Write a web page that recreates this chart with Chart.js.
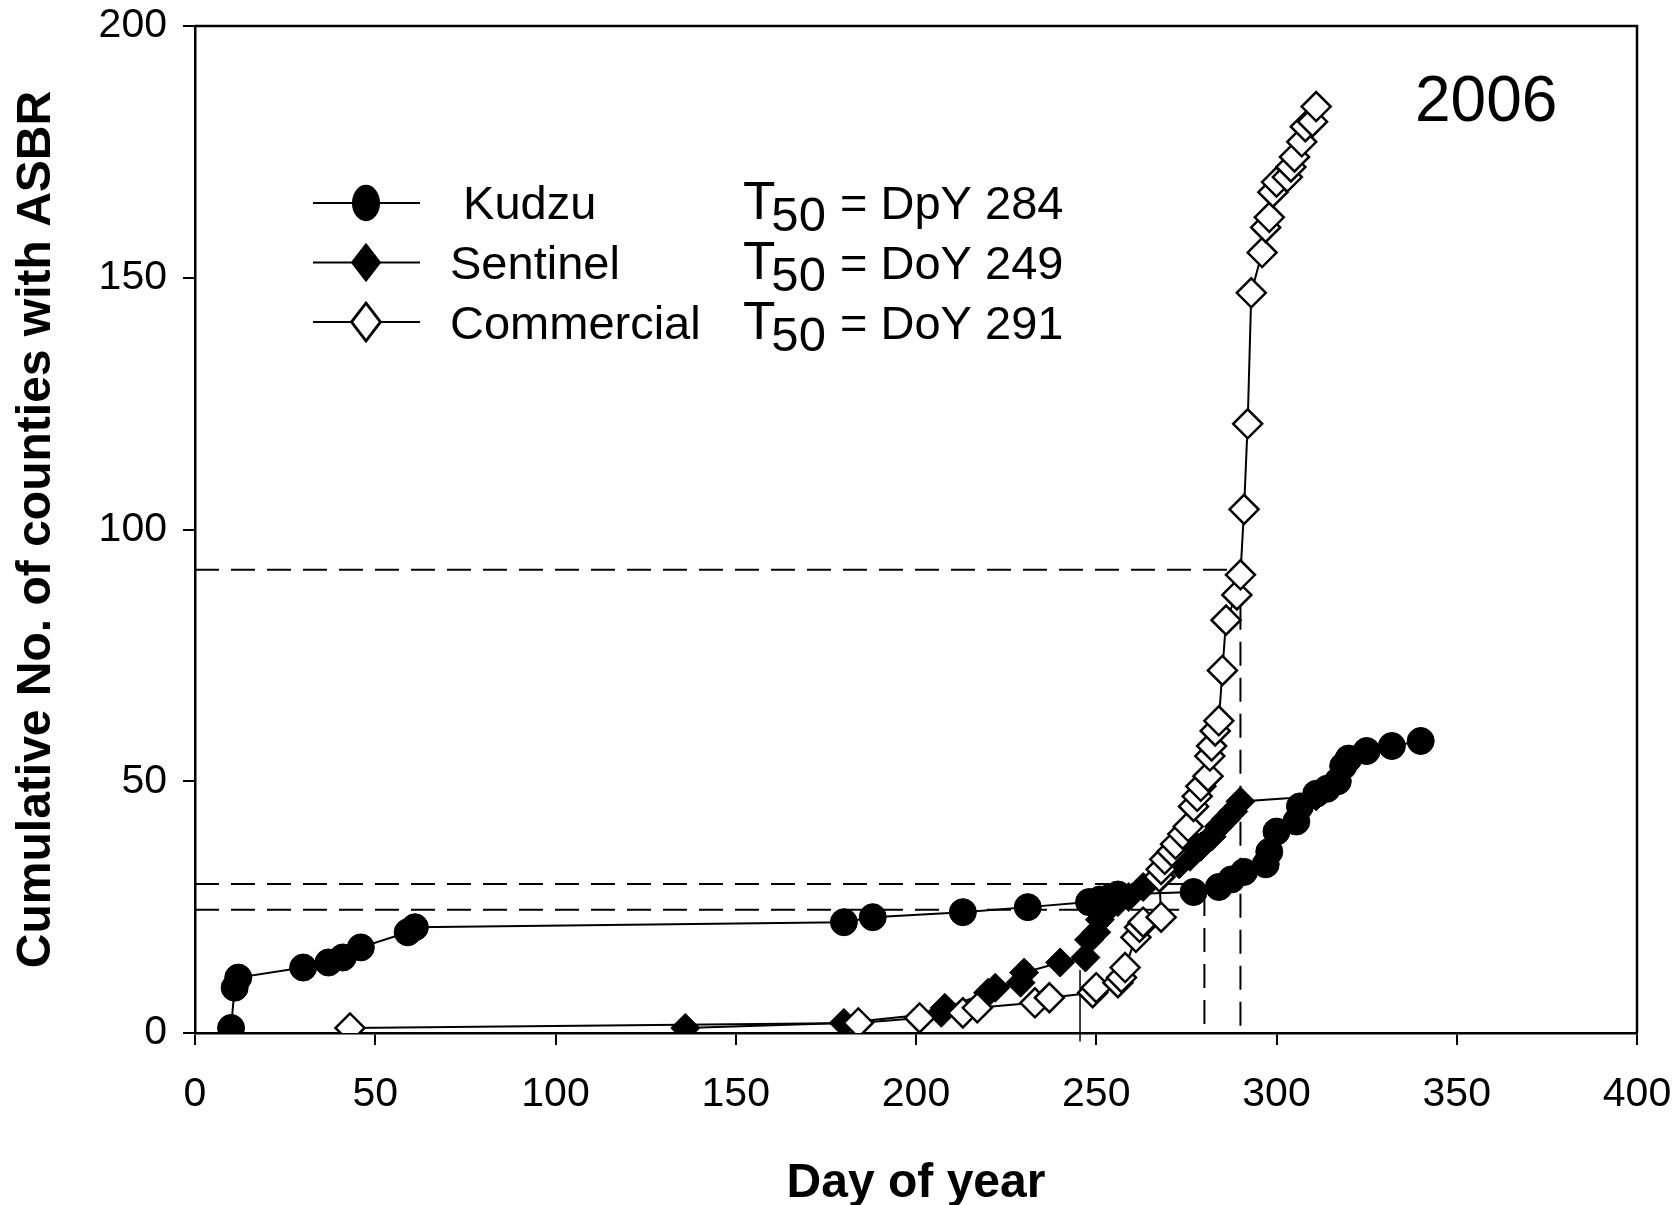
<!DOCTYPE html>
<html>
<head>
<meta charset="utf-8">
<script src="https://cdn.jsdelivr.net/npm/chart.js@4.4.1/dist/chart.umd.min.js"></script>
<style>
    html, body { margin: 0; padding: 0; background: #fff; }
    #wrap { position: relative; width: 1673px; height: 1205px; }
</style>
</head>
<body>
<div id="wrap"><canvas id="asbrChart"></canvas></div>
<script>
// Dados: dia do ano e número acumulado de condados com ASBR
const kudzuDay = [10, 11, 12, 30, 37, 41, 46, 59, 61, 180, 188, 213, 231, 248, 251, 254, 256, 277, 284, 287.5, 291, 297, 298, 300, 305.5, 306.5, 311, 314, 317, 318.5, 320, 325, 332, 340];
const kudzuCount = [1, 9, 11, 13, 14, 15, 17, 20, 21, 22, 23, 24, 25, 26, 26.5, 27, 27.5, 28, 29, 30.5, 32, 33.5, 36, 40, 42, 45, 47.5, 48.5, 50, 53, 54.5, 56, 57, 58];

const sentinelDay = [136, 180, 207, 208, 220, 222, 229, 230, 240, 247, 248, 250, 251, 253, 256, 259, 263, 268, 273, 276, 279, 282, 284, 286, 288, 290, 311];
const sentinelCount = [1, 2, 4, 5, 8, 9, 10, 12, 14, 15, 18.5, 20, 22.5, 24.5, 26, 27, 29, 31, 33.5, 35, 37, 39, 41, 42.5, 44, 46, 47];

const commercialDay = [43, 184, 201, 213, 217, 233, 237, 249, 250, 256, 257, 258, 261, 262, 263, 268, 267.5, 268, 269, 271, 272, 274, 275.5, 277, 278, 279, 281, 281.5, 282, 283, 284, 285, 286, 289, 290, 291, 292, 293, 296, 297, 298, 299, 300, 303, 304, 305, 307, 308, 310, 311];
const commercialCount = [1, 2, 3, 4, 5, 6, 7, 8, 9, 10, 11, 13, 19, 21, 22, 23, 31, 32.5, 34.5, 36, 37.5, 39.5, 41, 45, 47, 49, 51, 55, 57, 60, 62, 72, 82, 87, 91, 104, 121, 147, 155, 160, 162, 167, 169, 170, 172, 174, 177, 180, 181, 184];

const seriesNames = [' Kudzu', 'Sentinel', 'Commercial'];
const t50Labels = ['= DpY 284', '= DoY 249', '= DoY 291'];
const yearLabel = '2006';

const xTicks = [0, 50, 100, 150, 200, 250, 300, 350, 400];
const yTicks = [0, 50, 100, 150, 200];

// Linhas de referência T50 (x1, y1, x2, y2 em unidades dos eixos)
const dashedGuides = [
    [0, 92, 290, 92],
    [290, 92, 290, 0],
    [0, 29.6, 276, 29.6],
    [0, 24.5, 273, 24.5],
    [280, 28, 280, 0]
];
const solidGuides = [
    [245.5, 12.5, 245.5, -1.7]
];

const FONT = '"Liberation Sans", Arial, sans-serif';

function toPoints(xs, ys) {
    return xs.map((x, i) => ({ x: x, y: ys[i] }));
}

function guideDataset(seg, dashed) {
    return {
        data: [{ x: seg[0], y: seg[1] }, { x: seg[2], y: seg[3] }],
        showLine: true,
        borderColor: '#000',
        borderWidth: dashed ? 2 : 1.5,
        borderDash: dashed ? [24, 12] : [],
        pointRadius: 0,
        clip: false,
        order: 5
    };
}

// Legenda, textos T50, ano e moldura
const annotations = {
    id: 'asbrAnnotations',
    afterDraw(chart) {
        const ctx = chart.ctx;
        const area = chart.chartArea;
        ctx.save();

        // moldura superior e direita
        ctx.strokeStyle = '#000';
        ctx.lineWidth = 2.5;
        ctx.beginPath();
        ctx.moveTo(area.left, area.top);
        ctx.lineTo(area.right, area.top);
        ctx.lineTo(area.right, area.bottom);
        ctx.stroke();

        // ano
        ctx.fillStyle = '#000';
        ctx.textBaseline = 'alphabetic';
        ctx.font = '64px ' + FONT;
        ctx.fillText(yearLabel, 1415, 121);

        seriesNames.forEach((name, i) => {
            const ds = chart.data.datasets[i];
            const cy = 203 + i * 59.5;
            const base = 219 + i * 60;

            ctx.strokeStyle = '#000';
            ctx.lineWidth = 2;
            ctx.beginPath();
            ctx.moveTo(313, cy);
            ctx.lineTo(420, cy);
            ctx.stroke();

            ctx.save();
            ctx.translate(366, cy);
            ctx.scale(1, 1.3);
            ctx.fillStyle = ds.pointBackgroundColor;
            ctx.strokeStyle = ds.pointBorderColor;
            ctx.lineWidth = ds.pointBorderWidth;
            Chart.helpers.drawPoint(ctx, {
                pointStyle: ds.pointStyle,
                radius: ds.pointRadius,
                rotation: 0,
                borderWidth: ds.pointBorderWidth
            }, 0, 0);
            ctx.restore();

            ctx.fillStyle = '#000';
            ctx.font = '47px ' + FONT;
            ctx.fillText(name, 450, base);

            // T com índice 50
            ctx.font = '53px ' + FONT;
            ctx.fillText('T', 743, base);
            const tw = ctx.measureText('T').width;
            ctx.font = '49px ' + FONT;
            ctx.fillText('50', 743 + tw - 4, base + 12);
            ctx.font = '47px ' + FONT;
            ctx.fillText(t50Labels[i], 840, base);
        });

        ctx.restore();
    }
};

const datasets = [
    {
        label: 'Kudzu',
        data: toPoints(kudzuDay, kudzuCount),
        showLine: true,
        borderColor: '#000',
        borderWidth: 2,
        pointStyle: 'circle',
        pointRadius: 13.5,
        pointBackgroundColor: '#000',
        pointBorderColor: '#000',
        pointBorderWidth: 1,
        order: 1
    },
    {
        label: 'Sentinel',
        data: toPoints(sentinelDay, sentinelCount),
        showLine: true,
        borderColor: '#000',
        borderWidth: 2,
        pointStyle: 'rectRot',
        pointRadius: 14.5,
        pointBackgroundColor: '#000',
        pointBorderColor: '#000',
        pointBorderWidth: 1,
        order: 2
    },
    {
        label: 'Commercial',
        data: toPoints(commercialDay, commercialCount),
        showLine: true,
        borderColor: '#000',
        borderWidth: 2,
        pointStyle: 'rectRot',
        pointRadius: 14.5,
        pointBackgroundColor: '#fff',
        pointBorderColor: '#000',
        pointBorderWidth: 2.5,
        order: 0
    }
];
dashedGuides.forEach(seg => datasets.push(guideDataset(seg, true)));
solidGuides.forEach(seg => datasets.push(guideDataset(seg, false)));

Chart.defaults.font.family = FONT;
Chart.defaults.color = '#000';

const asbrChart = new Chart(document.getElementById('asbrChart').getContext('2d'), {
    type: 'scatter',
    data: { datasets: datasets },
    options: {
        responsive: true,
        maintainAspectRatio: false,
        animation: false,
        layout: { autoPadding: false, padding: { top: 26, right: 36, left: 0, bottom: 0 } },
        plugins: {
            legend: { display: false },
            tooltip: { enabled: false }
        },
        scales: {
            x: {
                type: 'linear',
                min: 0,
                max: 400,
                afterBuildTicks: scale => { scale.ticks = xTicks.map(v => ({ value: v })); },
                afterFit: scale => {
                    scale.height = 172;
                    scale.paddingLeft = 0;
                    scale.paddingRight = 0;
                },
                ticks: { font: { size: 41 }, padding: 25, maxRotation: 0, autoSkip: false },
                grid: { drawOnChartArea: false, drawTicks: true, tickLength: 12, color: '#000', lineWidth: 2 },
                border: { display: true, color: '#000', width: 2.5 },
                title: {
                    display: true,
                    text: 'Day of year',
                    font: { size: 48, weight: 'bold' },
                    padding: { top: 0, bottom: -8 }
                }
            },
            y: {
                type: 'linear',
                min: 0,
                max: 200,
                afterBuildTicks: scale => { scale.ticks = yTicks.map(v => ({ value: v })); },
                afterFit: scale => {
                    scale.width = 195;
                    scale.paddingTop = 0;
                    scale.paddingBottom = 0;
                },
                ticks: { font: { size: 41 }, padding: 16, autoSkip: false },
                grid: { drawOnChartArea: false, drawTicks: true, tickLength: 12, color: '#000', lineWidth: 2 },
                border: { display: true, color: '#000', width: 2.5 },
                title: {
                    display: true,
                    text: 'Cumulative No. of counties with ASBR',
                    font: { size: 48, weight: 'bold' },
                    padding: { top: 8, bottom: 0 }
                }
            }
        }
    },
    plugins: [annotations]
});
</script>
</body>
</html>
